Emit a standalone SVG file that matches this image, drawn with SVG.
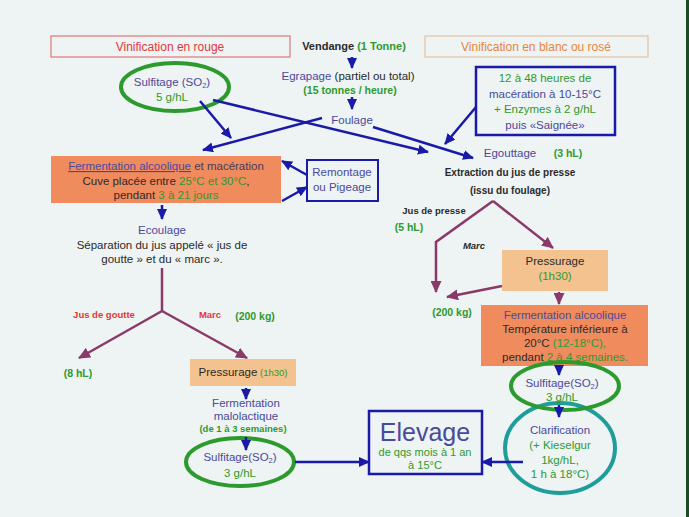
<svg xmlns="http://www.w3.org/2000/svg" width="689" height="517" viewBox="0 0 689 517">
<defs>
<marker id="ab" markerUnits="userSpaceOnUse" markerWidth="11" markerHeight="10" refX="10" refY="5" orient="auto"><path d="M0,0 L11,5 L0,10 z" fill="#1a1aa8"/></marker>
<marker id="ap" markerUnits="userSpaceOnUse" markerWidth="12" markerHeight="11" refX="11" refY="5.5" orient="auto"><path d="M0,0 L12,5.5 L0,11 z" fill="#8a3a68"/></marker>
</defs>
<style>
text{font-family:"Liberation Sans",Arial,sans-serif;font-size:11.5px}
.c{text-anchor:middle}
.pb{fill:#4a4a9c}
.g{fill:#2e9a2e}
.k{fill:#2a2a2a}
.r{fill:#e03838}
.b{font-weight:bold}
.s{font-size:9.5px}
.n{font-size:10.5px}
.bl{stroke:#1a1aa8;stroke-width:2.5;fill:none}
.pu{stroke:#8a3a68;stroke-width:2.5;fill:none}
.ell{fill:none;stroke:#2c9a2c;stroke-width:4}
.orange{fill:#f08b5e}
.tan{fill:#f3c28e}
.box{fill:none;stroke:#1a1aa8;stroke-width:2.5}
</style>
<rect x="0" y="0" width="689" height="517" fill="#eef3f3"/>
<rect x="686" y="0" width="3" height="517" fill="#1f4a2a"/>

<g id="header-rouge">
<rect x="51" y="36" width="239" height="21" fill="none" stroke="#e07878" stroke-width="1.2"/>
<text class="c r" x="170" y="51" style="font-size:12px">Vinification en rouge</text>
</g>
<g id="vendange">
<text class="c b" x="354" y="50" style="font-size:11px"><tspan class="k">Vendange</tspan><tspan class="g"> (1 Tonne)</tspan></text>
</g>
<g id="header-blanc">
<rect x="425" y="36" width="223" height="21" fill="none" stroke="#e4c4a4" stroke-width="1.2"/>
<text class="c" x="536" y="51" fill="#e8853c" style="font-size:12px">Vinification en blanc ou rosé</text>
</g>
<g id="egrapage">
<text class="c" x="348" y="80"><tspan class="pb">Egrapage</tspan><tspan class="k"> (partiel ou total)</tspan></text>
<text class="c g b" x="350" y="94" style="font-size:10.5px">(15 tonnes / heure)</text>
</g>
<g id="foulage">
<text class="c pb" x="352" y="124">Foulage</text>
</g>
<g id="sulfitage-rouge">
<text class="c pb" x="172" y="86">Sulfitage (SO<tspan font-size="7.5" dy="2">2</tspan><tspan dy="-2">)</tspan></text>
<text class="c g" x="172" y="101">5 g/hL</text>
<ellipse class="ell" cx="175" cy="87" rx="54" ry="24"/>
</g>
<g id="maceration">
<rect class="box" x="476" y="67" width="139" height="68"/>
<text class="c g" x="545" y="82">12 à 48 heures de</text>
<text class="c pb" x="545" y="98">macération à 10-15°C</text>
<text class="c g" x="545" y="113">+ Enzymes à 2 g/hL</text>
<text class="c pb" x="545" y="129">puis «Saignée»</text>
</g>
<g id="fermentation-rouge">
<rect class="orange" x="51" y="156" width="230" height="47"/>
<text class="c" x="166" y="170"><tspan class="pb" text-decoration="underline">Fermentation alcoolique</tspan><tspan fill="#4a3a5a"> et macération</tspan></text>
<text class="c" x="166" y="185"><tspan class="k">Cuve placée entre </tspan><tspan class="g">25°C et 30°C</tspan><tspan class="k">,</tspan></text>
<text class="c" x="166" y="199"><tspan class="k">pendant </tspan><tspan class="g">3 à 21 jours</tspan></text>
</g>
<g id="remontage">
<rect x="307" y="160" width="71" height="41" fill="none" stroke="#1a1aa8" stroke-width="2"/>
<text class="c pb" x="342" y="176">Remontage</text>
<text class="c pb" x="342" y="191">ou Pigeage</text>
</g>
<g id="ecoulage">
<text class="c pb" x="162" y="234">Ecoulage</text>
<text class="c k" x="162" y="249">Séparation du jus appelé « jus de</text>
<text class="c k" x="162" y="263">goutte » et du « marc ».</text>
</g>
<g id="labels-rouge">
<text class="c r b s" x="104" y="318">Jus de goutte</text>
<text class="c r b s" x="210" y="318">Marc</text>
<text class="c g b n" x="255" y="320">(200 kg)</text>
<text class="c g b n" x="78" y="377">(8 hL)</text>
</g>
<g id="pressurage-rouge">
<rect class="tan" x="190" y="359" width="106" height="27"/>
<text class="c" x="243" y="376"><tspan class="k">Pressurage</tspan><tspan class="g" font-size="9.5"> (1h30)</tspan></text>
</g>
<g id="malolactique">
<text class="c pb" x="246" y="407">Fermentation</text>
<text class="c pb" x="246" y="420">malolactique</text>
<text class="c g b" x="243" y="432" style="font-size:9.5px">(de 1 à 3 semaines)</text>
</g>
<g id="sulfitage-rouge-2">
<text class="c pb" x="240" y="461">Sulfitage(SO<tspan font-size="7.5" dy="2">2</tspan><tspan dy="-2">)</tspan></text>
<text class="c g" x="240" y="477">3 g/hL</text>
<ellipse class="ell" cx="240" cy="462" rx="54" ry="24"/>
</g>
<g id="elevage">
<rect class="box" x="369" y="411" width="113" height="63"/>
<text class="c pb" x="425" y="441" style="font-size:25px">Elevage</text>
<text class="c g" x="425" y="456" style="font-size:11px">de qqs mois à 1 an</text>
<text class="c g" x="425" y="469" style="font-size:11px">à 15°C</text>
</g>
<g id="egouttage">
<text class="c pb" x="510" y="157">Egouttage</text>
<text class="c g b n" x="568" y="157">(3 hL)</text>
<text class="c k b" x="510" y="176" style="font-size:10px">Extraction du jus de presse</text>
<text class="c k b" x="510" y="194" style="font-size:10px">(issu du foulage)</text>
</g>
<g id="labels-blanc">
<text class="c k b s" x="434" y="214">Jus de presse</text>
<text class="c g b n" x="409" y="231">(5 hL)</text>
<text class="c k b s" x="474" y="249" font-style="italic">Marc</text>
<text class="c g b n" x="452" y="316">(200 kg)</text>
</g>
<g id="pressurage-blanc">
<rect class="tan" x="502" y="250" width="106" height="41"/>
<text class="c k" x="555" y="265">Pressurage</text>
<text class="c g" x="555" y="280">(1h30)</text>
</g>
<g id="fermentation-blanc">
<rect class="orange" x="481" y="305" width="167" height="61"/>
<text class="c pb" x="565" y="319">Fermentation alcoolique</text>
<text class="c k" x="565" y="333">Température inférieure à</text>
<text class="c" x="565" y="347"><tspan class="k">20°C </tspan><tspan class="g">(12-18°C),</tspan></text>
<text class="c" x="565" y="361"><tspan class="k">pendant </tspan><tspan class="g">2 à 4 semaines.</tspan></text>
</g>
<g id="clarification">
<text class="c pb" x="560" y="434">Clarification</text>
<text class="c g" x="560" y="449">(+ Kieselgur</text>
<text class="c g" x="560" y="464">1kg/hL,</text>
<text class="c g" x="560" y="478">1 h à 18°C)</text>
<ellipse cx="560" cy="448" rx="55" ry="45" fill="none" stroke="#1f9d9a" stroke-width="4"/>
</g>
<g id="sulfitage-blanc">
<text class="c pb" x="562" y="387">Sulfitage(SO<tspan font-size="7.5" dy="2">2</tspan><tspan dy="-2">)</tspan></text>
<text class="c g" x="562" y="401">3 g/hL</text>
<ellipse class="ell" cx="565" cy="386" rx="54" ry="24"/>
</g>

<g id="connectors">
<line class="bl" x1="352" y1="57" x2="352" y2="68" marker-end="url(#ab)"/>
<line class="bl" x1="352" y1="97" x2="352" y2="109" marker-end="url(#ab)"/>
<line class="bl" x1="200" y1="101" x2="231" y2="138" marker-end="url(#ab)"/>
<line class="bl" x1="322" y1="118" x2="203" y2="150" marker-end="url(#ab)"/>
<line class="bl" x1="213" y1="100" x2="428" y2="152" marker-end="url(#ab)"/>
<line class="bl" x1="373" y1="127" x2="473" y2="158" marker-end="url(#ab)"/>
<line class="bl" x1="476" y1="107" x2="445" y2="144" marker-end="url(#ab)"/>
<line class="bl" x1="307" y1="175" x2="282" y2="161" marker-end="url(#ab)"/>
<line class="bl" x1="282" y1="201" x2="307" y2="187" marker-end="url(#ab)"/>
<line class="bl" x1="162" y1="205" x2="162" y2="219" marker-end="url(#ab)"/>
<line class="bl" x1="246" y1="388" x2="246" y2="399" marker-end="url(#ab)"/>
<line class="bl" x1="246" y1="437" x2="246" y2="450" marker-end="url(#ab)"/>
<line class="bl" x1="295" y1="462" x2="369" y2="462" marker-end="url(#ab)"/>
<line class="bl" x1="523" y1="462" x2="482" y2="462" marker-end="url(#ab)"/>
<line class="bl" x1="559" y1="366" x2="559" y2="375" marker-end="url(#ab)"/>
<line class="bl" x1="559" y1="405" x2="559" y2="417" marker-end="url(#ab)"/>
<line class="pu" x1="162" y1="268" x2="162" y2="311"/>
<line class="pu" x1="162" y1="311" x2="79" y2="358" marker-end="url(#ap)"/>
<line class="pu" x1="162" y1="311" x2="247" y2="358" marker-end="url(#ap)"/>
<line class="pu" x1="493" y1="201" x2="553" y2="248" marker-end="url(#ap)"/>
<polyline class="pu" points="493,201 436,242 436,292" marker-end="url(#ap)"/>
<line class="pu" x1="502" y1="286" x2="447" y2="297" marker-end="url(#ap)"/>
<line class="pu" x1="559" y1="292" x2="559" y2="304" marker-end="url(#ap)"/>
</g>
</svg>
